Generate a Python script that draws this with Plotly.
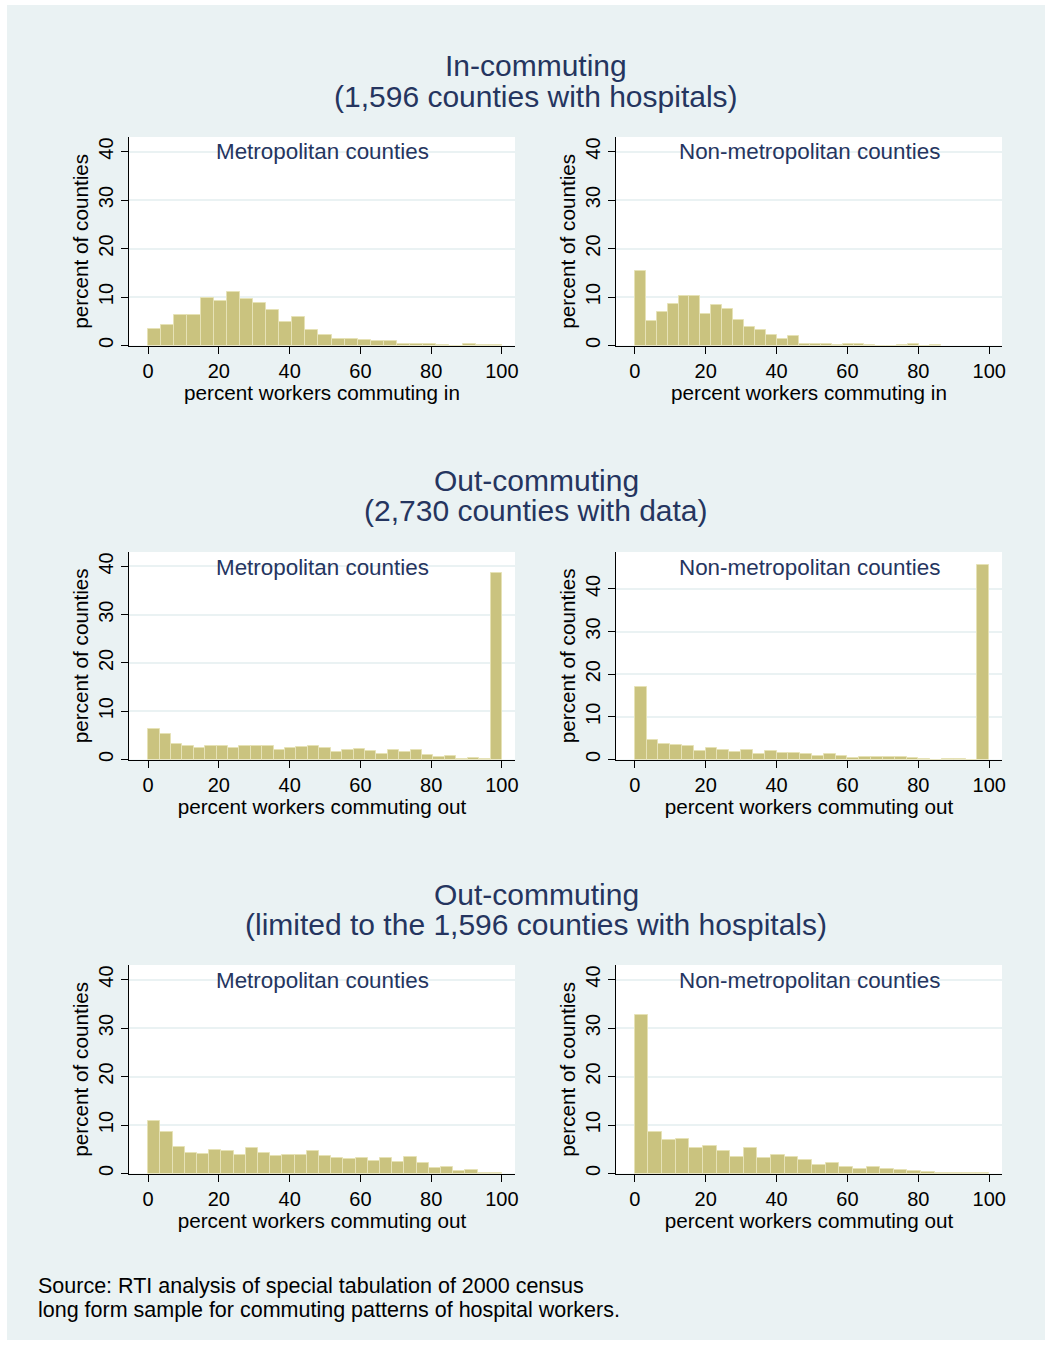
import numpy as np
import plotly.graph_objects as go

W, H = 1052, 1345

# Percent of counties in each histogram bin (bins start at 0, equal width)
in_metro = [3.4, 4.3, 6.3, 6.2, 9.9, 9.2, 11.0, 9.6, 8.7, 7.4, 4.8, 5.8, 3.3, 2.1,
            1.4, 1.4, 1.1, 0.9, 0.9, 0.3, 0.4, 0.3, 0.2, 0.0, 0.4, 0.2, 0.2]
in_nonmetro = [15.4, 5.0, 7.0, 8.6, 10.2, 10.2, 6.4, 8.3, 7.6, 5.3, 3.9, 3.2, 2.1, 1.3,
               1.9, 0.4, 0.4, 0.4, 0.2, 0.3, 0.3, 0.15, 0.0, 0.0, 0.15, 0.3, 0.0, 0.15]
out_metro = [6.4, 5.2, 3.3, 2.7, 2.3, 2.7, 2.8, 2.3, 2.8, 2.8, 2.8, 1.9, 2.3, 2.5, 2.8, 2.3,
             1.5, 1.9, 2.1, 1.8, 1.2, 1.9, 1.5, 2.0, 0.9, 0.6, 0.8, 0.2, 0.4, 0.2, 38.6]
out_nonmetro = [17.0, 4.5, 3.6, 3.5, 3.1, 2.0, 2.8, 2.2, 1.8, 2.3, 1.4, 2.0, 1.6, 1.6, 1.3,
                0.9, 1.2, 0.9, 0.3, 0.6, 0.6, 0.6, 0.5, 0.3, 0.1, 0.0, 0.15, 0.15, 0.0, 45.5]
hosp_out_metro = [10.9, 8.6, 5.4, 4.3, 4.1, 4.8, 4.7, 3.8, 5.2, 4.3, 3.7, 3.9, 3.9, 4.7, 3.7,
                  3.2, 2.9, 3.3, 2.5, 3.3, 2.3, 3.4, 2.2, 1.1, 1.3, 0.6, 0.7, 0.15, 0.15]
hosp_out_nonmetro = [32.6, 8.6, 6.9, 7.2, 5.2, 5.7, 4.7, 3.4, 5.2, 3.1, 3.8, 3.4, 2.7, 1.7,
                     2.1, 1.4, 1.0, 1.3, 0.9, 0.8, 0.5, 0.3, 0.1, 0.2, 0.1, 0.2]

# Upper end of the binned range for each histogram
in_metro_max = 100
in_nonmetro_max = 86.4
out_metro_max = 100
out_nonmetro_max = 100
hosp_out_metro_max = 100
hosp_out_nonmetro_max = 100

y_ticks = [0, 10, 20, 30, 40]
x_ticks = [0, 20, 40, 60, 80, 100]

section_titles = [
    ("In-commuting", "(1,596 counties with hospitals)"),
    ("Out-commuting", "(2,730 counties with data)"),
    ("Out-commuting", "(limited to the 1,596 counties with hospitals)"),
]
panel_titles = ["Metropolitan counties", "Non-metropolitan counties"]
x_titles = ["percent workers commuting in", "percent workers commuting out",
            "percent workers commuting out"]
y_title = "percent of counties"
source_lines = ["Source: RTI analysis of special tabulation of 2000 census",
                "long form sample for commuting patterns of hospital workers."]

panels = [
    (in_metro, in_metro_max), (in_nonmetro, in_nonmetro_max),
    (out_metro, out_metro_max), (out_nonmetro, out_nonmetro_max),
    (hosp_out_metro, hosp_out_metro_max), (hosp_out_nonmetro, hosp_out_nonmetro_max),
]

# ---- styling / geometry (pixels) ----
FONT = "Liberation Sans, Arial, Helvetica, sans-serif"
NAVY = "#25355F"
BG = "#EAF2F3"
BAR = "#CAC37F"
BAR_EDGE = "#E6E2B6"
col_x = [(129, 515), (616, 1002)]
row_y = [(137, 345.5), (552, 759.5), (965, 1173.5)]
row_title_y = [66, 480, 894]
x_ranges = [(-5.4, 103.7), (-5.3, 103.6)]


def px(x):
    return x / W


def py(y):
    return 1 - y / H


fig = go.Figure()
annotations = []
layout_axes = {}

for i, (vals, vmax) in enumerate(panels):
    r, c = divmod(i, 2)
    n = len(vals)
    width = vmax / n
    centers = width * (np.arange(n) + 0.5)
    k = i + 1
    xa = "x" if k == 1 else f"x{k}"
    ya = "y" if k == 1 else f"y{k}"
    fig.add_trace(go.Bar(
        x=centers, y=vals, width=width, xaxis=xa, yaxis=ya,
        marker=dict(color=BAR, line=dict(color=BAR_EDGE, width=1)),
        showlegend=False, hoverinfo="x+y",
    ))
    ymax = 48.65 if max(vals) > 43 else 43.0
    x0, x1 = col_x[c]
    y0, y1 = row_y[r]
    layout_axes[f"xaxis{'' if k == 1 else k}"] = dict(
        domain=[px(x0), px(x1)], anchor=ya, range=list(x_ranges[c]),
        tickvals=x_ticks, ticks="outside", ticklen=7, tickcolor="black",
        showline=True, linecolor="black", linewidth=1, showgrid=False, zeroline=False,
        tickfont=dict(size=20, color="black", family=FONT),
        title=dict(text=x_titles[r], font=dict(size=20.7, color="black", family=FONT),
                   standoff=0),
        automargin=False, fixedrange=True,
    )
    layout_axes[f"yaxis{'' if k == 1 else k}"] = dict(
        domain=[py(y1), py(y0)], anchor=xa, range=[0, ymax],
        tickvals=y_ticks, ticks="outside", ticklen=7, tickcolor="black", tickangle=-90,
        showline=True, linecolor="black", linewidth=1,
        showgrid=True, gridcolor=BG, gridwidth=1.5, zeroline=False,
        tickfont=dict(size=20, color="black", family=FONT),
        title=dict(text=y_title, font=dict(size=20.7, color="black", family=FONT),
                   standoff=0),
        automargin=False, fixedrange=True,
    )
    annotations.append(dict(
        text=panel_titles[c], xref="paper", yref="paper",
        x=px((x0 + x1) / 2), y=py(y0 + 15), xanchor="center", yanchor="middle",
        showarrow=False, font=dict(size=22.4, color=NAVY, family=FONT),
    ))

for r, (t1, t2) in enumerate(section_titles):
    for j, t in enumerate((t1, t2)):
        annotations.append(dict(
            text=t, xref="paper", yref="paper", x=px(536), y=py(row_title_y[r] + 30 * j),
            xanchor="center", yanchor="middle", showarrow=False,
            font=dict(size=30, color=NAVY, family=FONT),
        ))

for j, line in enumerate(source_lines):
    annotations.append(dict(
        text=line, xref="paper", yref="paper", x=px(36), y=py(1286 + 24 * j),
        xanchor="left", yanchor="middle", showarrow=False,
        font=dict(size=21.5, color="black", family=FONT),
    ))

# White frame around the light graph region
frame = [(0, 0, 7, H), (1045, 0, W, H), (0, 0, W, 5), (0, 1340, W, H)]
shapes = [dict(type="rect", xref="paper", yref="paper", x0=px(a), x1=px(b),
               y0=py(e), y1=py(d), fillcolor="white", line=dict(width=0), layer="above")
          for a, d, b, e in frame]

fig.update_layout(
    width=W, height=H, margin=dict(l=0, r=0, t=0, b=0),
    paper_bgcolor=BG, plot_bgcolor="white",
    bargap=0, showlegend=False,
    annotations=annotations, shapes=shapes,
    font=dict(family=FONT),
    **layout_axes,
)

fig.write_html("out.html", config={"displayModeBar": False})
